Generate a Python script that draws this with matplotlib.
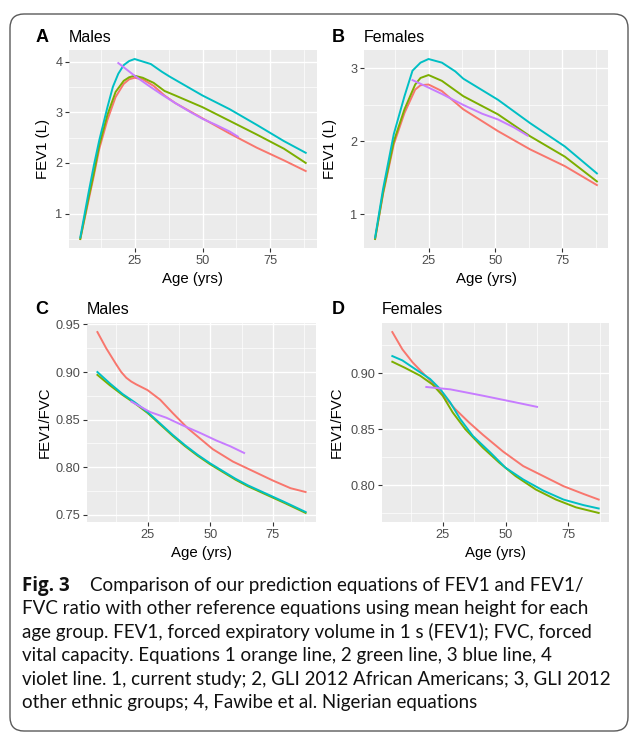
import matplotlib
matplotlib.use('Agg')
import matplotlib.pyplot as plt
from matplotlib.patches import FancyBboxPatch
from matplotlib.ticker import FormatStrFormatter

W, H = 630, 732

# ggplot default hue colours: 1 current study, 2 GLI AA, 3 GLI other, 4 Fawibe
col_1 = '#F8766D'
col_2 = '#7CAE00'
col_3 = '#00BFC4'
col_4 = '#C77CFF'

# A: FEV1 males
a_age_1 = [5, 8, 10, 12, 15, 18, 21, 23, 25, 28, 32, 36, 40, 50, 60, 70, 80, 88]
a_fev_1 = [0.50, 1.25, 1.75, 2.28, 2.85, 3.30, 3.56, 3.65, 3.68, 3.65, 3.52, 3.33, 3.18, 2.88, 2.58, 2.30, 2.05, 1.84]
a_age_2 = [5, 8, 10, 12, 15, 18, 21, 23, 25, 28, 32, 36, 40, 50, 60, 70, 80, 88]
a_fev_2 = [0.50, 1.30, 1.80, 2.35, 2.95, 3.40, 3.62, 3.69, 3.72, 3.68, 3.58, 3.42, 3.33, 3.10, 2.83, 2.56, 2.28, 2.00]
a_age_3 = [5, 8, 10, 12, 15, 17, 19, 21, 23, 25, 28, 31, 35, 38, 50, 60, 70, 80, 88]
a_fev_3 = [0.53, 1.40, 1.95, 2.45, 3.10, 3.50, 3.76, 3.93, 4.01, 4.05, 4.00, 3.95, 3.80, 3.70, 3.33, 3.06, 2.75, 2.43, 2.20]
a_age_4 = [19, 25, 30, 35, 40, 45, 50, 55, 60, 63]
a_fev_4 = [3.97, 3.72, 3.53, 3.35, 3.18, 3.02, 2.87, 2.75, 2.62, 2.52]

# B: FEV1 females
b_age_1 = [5, 8, 12, 16, 20, 22, 25, 30, 38, 51, 63, 76, 88]
b_fev_1 = [0.66, 1.28, 1.96, 2.39, 2.71, 2.77, 2.78, 2.69, 2.44, 2.14, 1.89, 1.66, 1.40]
b_age_2 = [5, 8, 12, 16, 20, 22, 25, 30, 38, 51, 63, 76, 88]
b_fev_2 = [0.66, 1.30, 2.00, 2.44, 2.78, 2.87, 2.91, 2.83, 2.62, 2.37, 2.07, 1.79, 1.45]
b_age_3 = [5, 8, 12, 16, 19, 22, 25, 30, 35, 38, 51, 63, 76, 88]
b_fev_3 = [0.68, 1.35, 2.10, 2.62, 2.97, 3.08, 3.13, 3.08, 2.96, 2.86, 2.57, 2.25, 1.93, 1.56]
b_age_4 = [19, 22, 26, 30, 38, 45, 51, 57, 62]
b_fev_4 = [2.84, 2.79, 2.72, 2.65, 2.50, 2.38, 2.30, 2.19, 2.08]

# C: FEV1/FVC males
c_age_1 = [5, 8.5, 12.5, 14.5, 16.5, 18.5, 20.5, 25, 30, 35, 41, 46, 51, 59, 67, 75, 82, 88]
c_rat_1 = [0.942, 0.925, 0.908, 0.900, 0.894, 0.890, 0.887, 0.881, 0.871, 0.857, 0.841, 0.830, 0.819, 0.806, 0.796, 0.786, 0.778, 0.774]
c_age_2 = [5, 10, 15, 20, 25, 30, 35, 40, 45, 50, 55, 60, 65, 70, 75, 80, 88]
c_rat_2 = [0.897, 0.886, 0.876, 0.867, 0.857, 0.845, 0.833, 0.822, 0.812, 0.803, 0.795, 0.787, 0.780, 0.774, 0.768, 0.762, 0.752]
c_age_3 = [5, 10, 15, 20, 25, 30, 35, 40, 45, 50, 55, 60, 65, 70, 75, 80, 88]
c_rat_3 = [0.900, 0.888, 0.877, 0.868, 0.858, 0.846, 0.834, 0.823, 0.813, 0.804, 0.796, 0.788, 0.781, 0.775, 0.769, 0.763, 0.753]
c_age_4 = [18.5, 26, 32.5, 39, 46, 52.5, 58, 63.5]
c_rat_4 = [0.869, 0.858, 0.852, 0.844, 0.836, 0.828, 0.822, 0.815]

# D: FEV1/FVC females
d_age_1 = [5, 9, 13, 17, 21, 25, 30, 35.5, 41, 49, 57, 65, 73, 81, 87]
d_rat_1 = [0.937, 0.9215, 0.910, 0.9006, 0.8916, 0.881, 0.868, 0.856, 0.845, 0.830, 0.817, 0.808, 0.799, 0.792, 0.787]
d_age_2 = [5, 10, 16, 21, 25, 29, 34, 41, 47.5, 54, 62, 70, 78, 87]
d_rat_2 = [0.9104, 0.905, 0.898, 0.890, 0.880, 0.865, 0.850, 0.8334, 0.820, 0.808, 0.796, 0.787, 0.780, 0.775]
d_age_3 = [5, 9, 14, 20, 24, 28, 32, 37, 44, 50, 57, 65, 73, 81, 87]
d_rat_3 = [0.9155, 0.9116, 0.904, 0.895, 0.886, 0.874, 0.859, 0.844, 0.829, 0.8155, 0.805, 0.795, 0.787, 0.782, 0.779]
d_age_4 = [18.5, 28, 41, 54, 62.5]
d_rat_4 = [0.8878, 0.8857, 0.880, 0.874, 0.870]

caption_lines = [
    'Comparison of our prediction equations of FEV1 and FEV1/',
    'FVC ratio with other reference equations using mean height for each',
    'age group. FEV1, forced expiratory volume in 1 s (FEV1); FVC, forced',
    'vital capacity. Equations 1 orange line, 2 green line, 3 blue line, 4',
    'violet line. 1, current study; 2, GLI 2012 African Americans; 3, GLI 2012',
    'other ethnic groups; 4, Fawibe et al. Nigerian equations',
]

plt.rcParams['font.family'] = ['Liberation Sans', 'DejaVu Sans']

fig = plt.figure(figsize=(W / 100, H / 100), dpi=100)

# background layer in pixel coordinates (frame + caption + titles)
bg = fig.add_axes([0, 0, 1, 1])
bg.set_xlim(0, W)
bg.set_ylim(H, 0)
bg.axis('off')
bg.add_patch(FancyBboxPatch((10, 14), 618, 717, boxstyle='round,pad=0,rounding_size=14',
                            fc='white', ec='#5a5a5a', lw=1.0))


def panel(l, t, r, b):
    return fig.add_axes([l / W, 1 - b / H, (r - l) / W, (b - t) / H])


def style(ax, ages, vals, yticks, yminor, fmt):
    ax.set_facecolor('#EBEBEB')
    for s in ax.spines.values():
        s.set_visible(False)
    ax.set_xticks([25, 50, 75])
    ax.set_xticks([12.5, 37.5, 62.5, 87.5], minor=True)
    ax.set_yticks(yticks)
    ax.set_yticks(yminor, minor=True)
    ax.grid(which='major', color='white', lw=1.0)
    ax.grid(which='minor', color='white', lw=0.5)
    ax.set_axisbelow(True)
    ax.tick_params(which='major', length=2.75, width=0.8, color='#333333',
                   labelsize=9.2, labelcolor='#4D4D4D', pad=2)
    ax.tick_params(which='minor', length=0)
    ax.yaxis.set_major_formatter(FormatStrFormatter(fmt))
    # ggplot style 5% expansion
    x0, x1 = min(min(a) for a in ages), max(max(a) for a in ages)
    y0, y1 = min(min(v) for v in vals), max(max(v) for v in vals)
    ax.set_xlim(x0 - 0.05 * (x1 - x0), x1 + 0.05 * (x1 - x0))
    ax.set_ylim(y0 - 0.05 * (y1 - y0), y1 + 0.05 * (y1 - y0))


def draw(ax, ages, vals):
    for a, v, c in zip(ages, vals, [col_1, col_2, col_3, col_4]):
        ax.plot(a, v, color=c, lw=1.4, solid_joinstyle='round')


panels = [
    # rect, ages, values, yticks, yminor, fmt, letter, title, ylabel, ylabel x
    ((69, 50, 317, 248), [a_age_1, a_age_2, a_age_3, a_age_4], [a_fev_1, a_fev_2, a_fev_3, a_fev_4],
     [1, 2, 3, 4], [0.5, 1.5, 2.5, 3.5], '%d', 'A', 'Males', 'FEV1 (L)', 43),
    ((364, 50, 608, 248), [b_age_1, b_age_2, b_age_3, b_age_4], [b_fev_1, b_fev_2, b_fev_3, b_fev_4],
     [1, 2, 3], [1.5, 2.5], '%d', 'B', 'Females', 'FEV1 (L)', 330),
    ((87, 323, 316, 522), [c_age_1, c_age_2, c_age_3, c_age_4], [c_rat_1, c_rat_2, c_rat_3, c_rat_4],
     [0.75, 0.80, 0.85, 0.90, 0.95], [0.775, 0.825, 0.875, 0.925], '%.2f', 'C', 'Males', 'FEV1/FVC', 45),
    ((382, 323, 609, 522), [d_age_1, d_age_2, d_age_3, d_age_4], [d_rat_1, d_rat_2, d_rat_3, d_rat_4],
     [0.80, 0.85, 0.90], [0.775, 0.825, 0.875, 0.925], '%.2f', 'D', 'Females', 'FEV1/FVC', 337),
]

for rect, ages, vals, yt, ym, fmt, letter, title, ylab, ylab_x in panels:
    l, t, r, b = rect
    ax = panel(l, t, r, b)
    draw(ax, ages, vals)
    style(ax, ages, vals, yt, ym, fmt)
    base = t - 8.5
    bg.text(331.5 if l > 300 else 35.5, base, letter, fontsize=13, fontweight='bold', va='baseline')
    bg.text(l, base, title, fontsize=11.5, va='baseline')
    bg.text(ylab_x, (t + b) / 2, ylab, fontsize=10.8, rotation=90, ha='center', va='center')
    bg.text((l + r) / 2, b + 31, 'Age (yrs)', fontsize=10.8, ha='center', va='center')

# caption, sized so that the longest line spans the text block width
cap_font = ['Lato', 'DejaVu Sans']
renderer = fig.canvas.get_renderer()
probe = bg.text(22, 614, caption_lines[4], fontsize=12, family=cap_font)
wpx = probe.get_window_extent(renderer).width
probe.remove()
cap_size = 12 * 587 / wpx

baselines = [591, 614.4, 637.8, 661.2, 684.6, 708]
bg.text(22, baselines[0], 'Fig. 3', fontsize=cap_size, family=['Open Sans', 'DejaVu Sans'],
        fontweight='bold', va='baseline', color='#111111')
bg.text(90.5, baselines[0], caption_lines[0], fontsize=cap_size, family=cap_font,
        va='baseline', color='#111111')
for y, line in zip(baselines[1:], caption_lines[1:]):
    bg.text(22, y, line, fontsize=cap_size, family=cap_font, va='baseline', color='#111111')

fig.savefig('out.png', dpi=100)
